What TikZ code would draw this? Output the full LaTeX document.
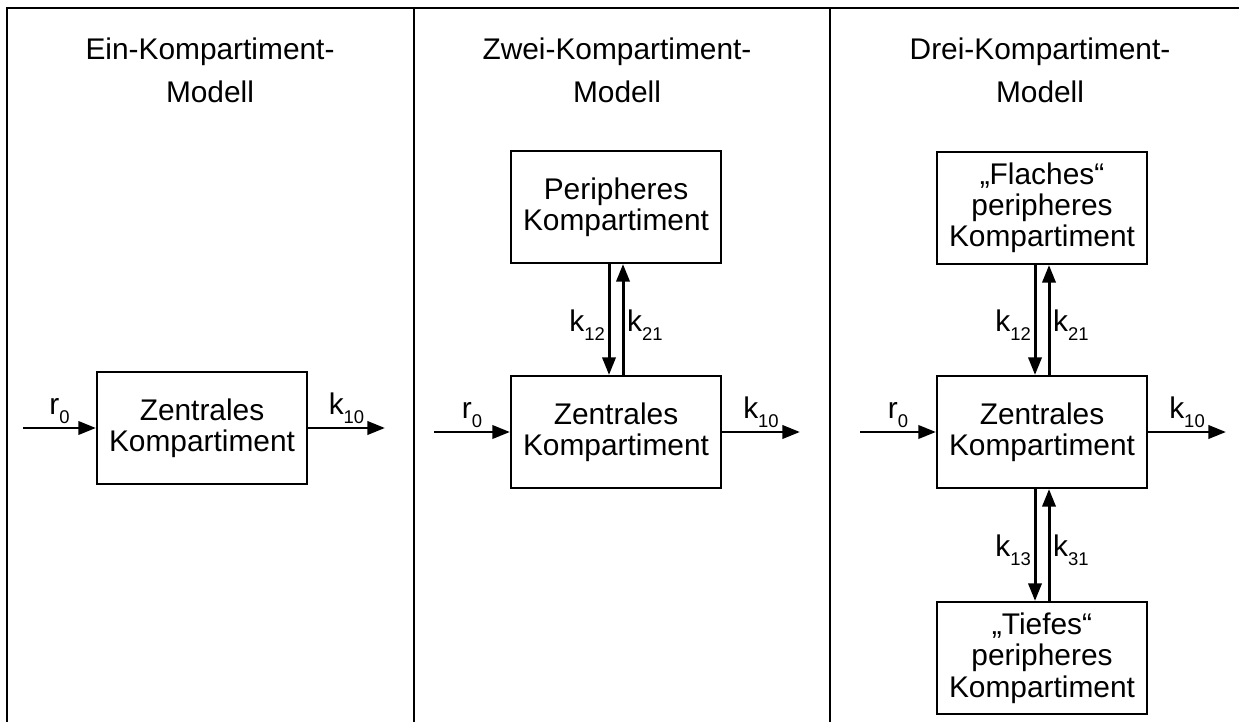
\documentclass[tikz,border=0pt]{standalone}
\usepackage{fontspec}
\setmainfont{Liberation Sans}
\usetikzlibrary{arrows.meta}
\newcommand\rsub[1]{\raisebox{-5pt}{\fontsize{10.5}{10.5}\selectfont #1}}

\begin{document}
\begin{tikzpicture}[x=0.02cm, y=-0.02cm,
		box/.style={draw, line width=1.2pt, minimum width=4.2cm, minimum height=2.24cm,
			align=center, inner sep=0pt, font=\fontsize{17}{17.8}\selectfont},
		title/.style={align=center, font=\fontsize{17}{24.5}\selectfont},
		flow/.style={line width=1.7pt, -{Triangle[length=10pt,width=7.5pt]}},
		rate/.style={font=\fontsize{17}{17}\selectfont, inner sep=1.5pt},
		frame/.style={line width=1.3pt}]
		%%%%% START %%%%%
		
		\useasboundingbox (0, 0) rectangle (1239, 722);
		
		\draw[frame] (7, 722) -- (7, 8) -- (1239, 8);
		\draw[frame] (414, 8) -- (414, 722);
		\draw[frame] (830, 8) -- (830, 722);
		
		% Ein-Kompartiment-Modell
		\node[title] (t1) at (210, 70) {Ein-Kompartiment-\\Modell};
		\node[box] (z1) at (202, 428) {Zentrales\\Kompartiment};
		\coordinate (in1) at (23, 428);
		\coordinate (out1) at (385, 428);
		\draw[flow] (in1) -- (z1.west) node[midway, above, rate] {r\rsub{0}};
		\draw[flow] (z1.east) -- (out1) node[midway, above, rate] {k\rsub{10}};
		
		% Zwei-Kompartiment-Modell
		\node[title] (t2) at (617, 70) {Zwei-Kompartiment-\\Modell};
		\node[box] (p2) at (616, 207) {Peripheres\\Kompartiment};
		\node[box] (z2) at (616, 432) {Zentrales\\Kompartiment};
		\coordinate (in2) at (434, 432);
		\coordinate (out2) at (800, 432);
		\draw[flow] (in2) -- (z2.west) node[midway, above, rate] {r\rsub{0}};
		\draw[flow] (z2.east) -- (out2) node[midway, above, rate] {k\rsub{10}};
		\draw[flow] ([xshift=-0.14cm]p2.south) -- ([xshift=-0.14cm]z2.north)
			node[pos=0.55, left, rate] {k\rsub{12}};
		\draw[flow] ([xshift=0.14cm]z2.north) -- ([xshift=0.14cm]p2.south)
			node[pos=0.45, right, rate] {k\rsub{21}};
		
		% Drei-Kompartiment-Modell
		\node[title] (t3) at (1040, 70) {Drei-Kompartiment-\\Modell};
		\node[box] (p3) at (1042, 208) {„Flaches“\\peripheres\\Kompartiment};
		\node[box] (z3) at (1042, 432) {Zentrales\\Kompartiment};
		\node[box] (q3) at (1042, 658) {„Tiefes“\\peripheres\\Kompartiment};
		\coordinate (in3) at (860, 432);
		\coordinate (out3) at (1226, 432);
		\draw[flow] (in3) -- (z3.west) node[midway, above, rate] {r\rsub{0}};
		\draw[flow] (z3.east) -- (out3) node[midway, above, rate] {k\rsub{10}};
		\draw[flow] ([xshift=-0.14cm]p3.south) -- ([xshift=-0.14cm]z3.north)
			node[pos=0.55, left, rate] {k\rsub{12}};
		\draw[flow] ([xshift=0.14cm]z3.north) -- ([xshift=0.14cm]p3.south)
			node[pos=0.45, right, rate] {k\rsub{21}};
		\draw[flow] ([xshift=-0.14cm]z3.south) -- ([xshift=-0.14cm]q3.north)
			node[pos=0.55, left, rate] {k\rsub{13}};
		\draw[flow] ([xshift=0.14cm]q3.north) -- ([xshift=0.14cm]z3.south)
			node[pos=0.45, right, rate] {k\rsub{31}};
		
		%%%%% END %%%%%
	\end{tikzpicture}
\end{document}
